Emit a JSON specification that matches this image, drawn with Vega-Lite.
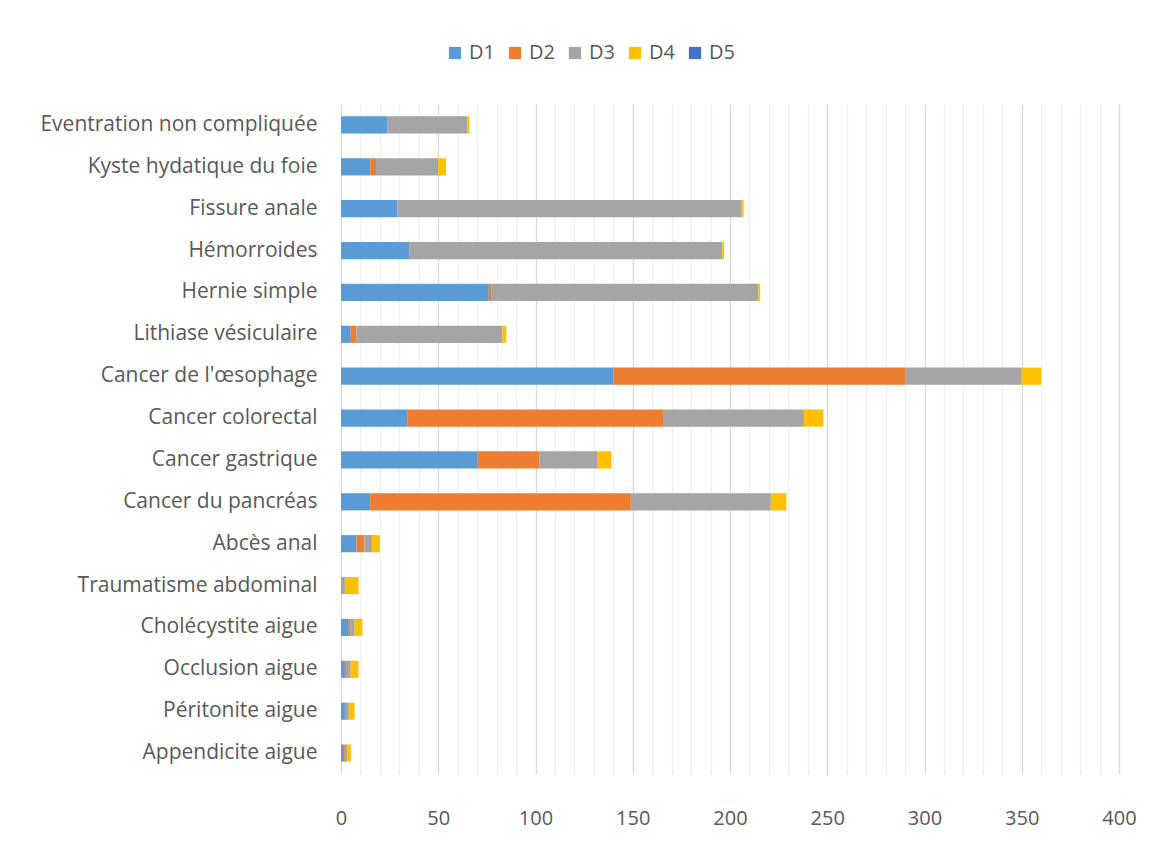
{
  "$schema": "https://vega.github.io/schema/vega-lite/v6.json",
  "autosize": {"type": "none"},
  "width": 778,
  "height": 670,
  "padding": {"left": 341, "top": 104, "right": 37, "bottom": 74},
  "background": "#ffffff",
  "config": {
    "font": "Open Sans",
    "view": {"stroke": null}
  },
  "data": {
    "values": [
      {"c": "Eventration non compliquée", "s": "D1", "v": 24},
      {"c": "Eventration non compliquée", "s": "D3", "v": 41},
      {"c": "Eventration non compliquée", "s": "D4", "v": 1},
      {"c": "Kyste hydatique du foie", "s": "D1", "v": 15},
      {"c": "Kyste hydatique du foie", "s": "D2", "v": 3},
      {"c": "Kyste hydatique du foie", "s": "D3", "v": 32},
      {"c": "Kyste hydatique du foie", "s": "D4", "v": 4},
      {"c": "Fissure anale", "s": "D1", "v": 29},
      {"c": "Fissure anale", "s": "D3", "v": 177},
      {"c": "Fissure anale", "s": "D4", "v": 1},
      {"c": "Hémorroides", "s": "D1", "v": 35},
      {"c": "Hémorroides", "s": "D3", "v": 161},
      {"c": "Hémorroides", "s": "D4", "v": 1},
      {"c": "Hernie simple", "s": "D1", "v": 76},
      {"c": "Hernie simple", "s": "D2", "v": 1.5},
      {"c": "Hernie simple", "s": "D3", "v": 137},
      {"c": "Hernie simple", "s": "D4", "v": 1},
      {"c": "Lithiase vésiculaire", "s": "D1", "v": 5},
      {"c": "Lithiase vésiculaire", "s": "D2", "v": 3},
      {"c": "Lithiase vésiculaire", "s": "D3", "v": 75},
      {"c": "Lithiase vésiculaire", "s": "D4", "v": 2},
      {"c": "Cancer de l'œsophage", "s": "D1", "v": 140},
      {"c": "Cancer de l'œsophage", "s": "D2", "v": 150},
      {"c": "Cancer de l'œsophage", "s": "D3", "v": 60},
      {"c": "Cancer de l'œsophage", "s": "D4", "v": 10},
      {"c": "Cancer colorectal", "s": "D1", "v": 34},
      {"c": "Cancer colorectal", "s": "D2", "v": 132},
      {"c": "Cancer colorectal", "s": "D3", "v": 72},
      {"c": "Cancer colorectal", "s": "D4", "v": 10},
      {"c": "Cancer gastrique", "s": "D1", "v": 70},
      {"c": "Cancer gastrique", "s": "D2", "v": 32},
      {"c": "Cancer gastrique", "s": "D3", "v": 30},
      {"c": "Cancer gastrique", "s": "D4", "v": 7},
      {"c": "Cancer du pancréas", "s": "D1", "v": 15},
      {"c": "Cancer du pancréas", "s": "D2", "v": 134},
      {"c": "Cancer du pancréas", "s": "D3", "v": 72},
      {"c": "Cancer du pancréas", "s": "D4", "v": 8},
      {"c": "Abcès anal", "s": "D1", "v": 8},
      {"c": "Abcès anal", "s": "D2", "v": 4},
      {"c": "Abcès anal", "s": "D3", "v": 4},
      {"c": "Abcès anal", "s": "D4", "v": 4},
      {"c": "Traumatisme abdominal", "s": "D3", "v": 2},
      {"c": "Traumatisme abdominal", "s": "D4", "v": 7},
      {"c": "Cholécystite aigue", "s": "D1", "v": 4},
      {"c": "Cholécystite aigue", "s": "D2", "v": 1},
      {"c": "Cholécystite aigue", "s": "D3", "v": 2},
      {"c": "Cholécystite aigue", "s": "D4", "v": 4},
      {"c": "Occlusion aigue", "s": "D1", "v": 2},
      {"c": "Occlusion aigue", "s": "D2", "v": 1},
      {"c": "Occlusion aigue", "s": "D3", "v": 2},
      {"c": "Occlusion aigue", "s": "D4", "v": 4},
      {"c": "Péritonite aigue", "s": "D1", "v": 2},
      {"c": "Péritonite aigue", "s": "D2", "v": 0.5},
      {"c": "Péritonite aigue", "s": "D3", "v": 1.5},
      {"c": "Péritonite aigue", "s": "D4", "v": 3},
      {"c": "Appendicite aigue", "s": "D1", "v": 1.5},
      {"c": "Appendicite aigue", "s": "D2", "v": 0.5},
      {"c": "Appendicite aigue", "s": "D3", "v": 1.3},
      {"c": "Appendicite aigue", "s": "D4", "v": 1.8}
    ]
  },
  "mark": {"type": "bar"},
  "encoding": {
    "y": {
      "field": "c",
      "type": "nominal",
      "sort": ["Eventration non compliquée", "Kyste hydatique du foie", "Fissure anale", "Hémorroides", "Hernie simple", "Lithiase vésiculaire", "Cancer de l'œsophage", "Cancer colorectal", "Cancer gastrique", "Cancer du pancréas", "Abcès anal", "Traumatisme abdominal", "Cholécystite aigue", "Occlusion aigue", "Péritonite aigue", "Appendicite aigue"],
      "scale": {"paddingInner": 0.59, "paddingOuter": 0.295},
      "axis": {
        "title": null,
        "ticks": false,
        "domain": false,
        "labelFontSize": 21,
        "labelColor": "#595959",
        "labelPadding": 24,
        "labelLimit": 400
      }
    },
    "x": {
      "field": "v",
      "type": "quantitative",
      "aggregate": "sum",
      "stack": "zero",
      "scale": {"domain": [0, 400], "nice": false},
      "axis": {
        "title": null,
        "values": [0,10,20,30,40,50,60,70,80,90,100,110,120,130,140,150,160,170,180,190,200,210,220,230,240,250,260,270,280,290,300,310,320,330,340,350,360,370,380,390,400],
        "labelExpr": "datum.value % 50 === 0 ? datum.label : ''",
        "gridColor": {"condition": {"test": "datum.value % 50 === 0", "value": "#d9d9d9"}, "value": "#efefef"},
        "gridWidth": 1.3,
        "ticks": false,
        "domain": false,
        "labelFontSize": 20,
        "labelColor": "#595959",
        "labelPadding": 34,
        "labelFlush": false
      }
    },
    "color": {
      "field": "s",
      "type": "nominal",
      "scale": {"domain": ["D1", "D2", "D3", "D4", "D5"], "range": ["#5B9BD5", "#ED7D31", "#A5A5A5", "#FFC000", "#4472C4"]},
      "legend": {
        "title": null,
        "orient": "none",
        "direction": "horizontal",
        "legendX": 104,
        "legendY": -61,
        "symbolType": "square",
        "symbolSize": 150,
        "symbolStrokeWidth": 0,
        "labelFontSize": 20,
        "labelColor": "#595959",
        "labelOffset": 4,
        "columnPadding": 10
      }
    },
    "order": {"field": "s", "sort": "ascending"}
  }
}
